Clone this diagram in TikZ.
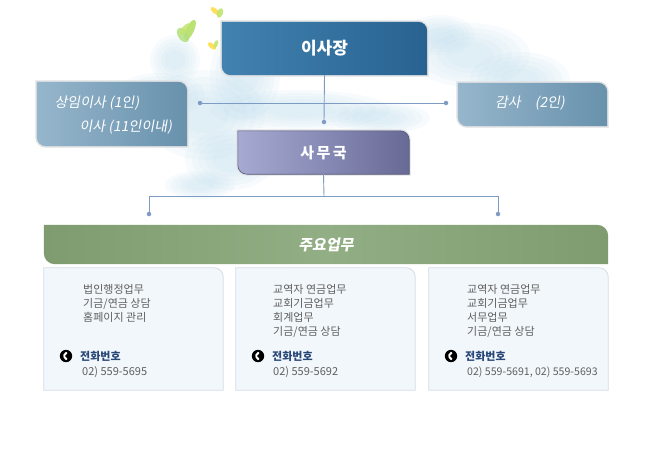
\documentclass[tikz,border=0pt]{standalone}
\usepackage{fontspec}
\setmainfont{Noto Sans CJK KR}
\newfontfamily\krsl[FakeSlant=0.18]{Noto Sans CJK KR}
\usetikzlibrary{calc}
\definecolor{lc}{RGB}{125,155,195}
\definecolor{edgegray}{RGB}{222,224,226}
\definecolor{bossL}{RGB}{66,130,176}
\definecolor{bossR}{RGB}{40,98,145}
\definecolor{sideL}{RGB}{150,182,204}
\definecolor{sideR}{RGB}{104,145,172}
\definecolor{offL}{RGB}{166,170,210}
\definecolor{offR}{RGB}{104,106,150}
\definecolor{grnL}{RGB}{126,156,112}
\definecolor{grnM}{RGB}{146,174,132}
\definecolor{panelfill}{RGB}{242,247,251}
\definecolor{paneledge}{RGB}{212,222,232}
\definecolor{txtgray}{RGB}{95,95,95}
\definecolor{telblue}{RGB}{40,70,120}
\definecolor{cloud}{RGB}{185,220,238}
\newcommand\leafshape[3]{% node, radius, style
  \path[#3] (#1.north west) -- ($(#1.north east)+(-#2,0)$)
    arc[start angle=90,end angle=0,radius=#2] -- (#1.south east)
    -- ($(#1.south west)+(#2,0)$) arc[start angle=270,end angle=180,radius=#2] -- cycle;}
\newcommand\panelshape[2]{%
  \path[#2] (#1.south west) -- (#1.north west) -- ($(#1.north east)+(-9,0)$)
    arc[start angle=90,end angle=0,radius=9] -- (#1.south east) -- cycle;}
\newcommand\phoneicon[1]{%
  \fill[black] (#1) circle[radius=6.2];
  \draw[white, line width=1.9pt, line cap=round] ($(#1)+(1.3,0)$) ++(115:3.1) arc[start angle=115, end angle=245, radius=3.1];
  \fill[white] ($(#1)+(1.3,0)$) ++(112:3.1) circle[radius=1.3];
  \fill[white] ($(#1)+(1.3,0)$) ++(248:3.1) circle[radius=1.3];}
\begin{document}
\begin{tikzpicture}[x=1pt,y=1pt,
  conn/.style={draw=lc, line width=0.9pt},
  dotc/.style={circle, fill=lc, inner sep=0pt, minimum size=4.5pt},
  boxnode/.style={inner sep=0pt, text=white},
  panelnode/.style={inner sep=0pt, minimum width=179pt, minimum height=122pt},
  ptext/.style={inner sep=0pt, anchor=north west, align=left, text=txtgray,
     font=\fontsize{11}{14}\selectfont},
  teltext/.style={inner sep=0pt, anchor=west, text=telblue, font=\fontsize{11}{12}\selectfont\bfseries},
  numtext/.style={inner sep=0pt, anchor=west, text=txtgray, font=\fontsize{11}{12}\selectfont}
]
\useasboundingbox (0,0) rectangle (648,-469);
\fill[white] (0,0) rectangle (648,-469);
% clouds (soft layered)
\foreach \cx/\cy/\rx/\ry in {
     205/-115/60/45, 160/-95/45/22, 230/-160/45/30, 245/-75/35/45,
     200/-185/35/14, 470/-55/60/32, 520/-80/50/28, 440/-35/35/20,
     300/-110/90/20, 380/-118/50/16, 555/-100/30/15, 175/-60/25/25, 140/-120/25/14}
  \foreach \s in {1.0,0.85,0.7,0.55,0.4}
    \fill[cloud, opacity=0.1] (\cx,\cy) ellipse[x radius=\s*\rx, y radius=\s*\ry];
% butterflies
\fill[yellow!55!green!70, opacity=0.85, rotate around={-25:(190,-30)}] (190,-30) ellipse[x radius=4, y radius=11];
\fill[yellow!45!green!55, opacity=0.85, rotate around={35:(183,-35)}] (183,-35) ellipse[x radius=5, y radius=8];
\fill[yellow!60!green!60, opacity=0.85, rotate around={-40:(185,-29)}] (185,-29) ellipse[x radius=3, y radius=7];
\fill[yellow!70!orange!70, opacity=0.9, rotate around={50:(215,-11)}] (215,-11) ellipse[x radius=2.5, y radius=5.5];
\fill[yellow!60!green!60, opacity=0.9, rotate around={-20:(220,-13)}] (220,-13) ellipse[x radius=3, y radius=5];
\fill[yellow!70!orange!70, opacity=0.9, rotate around={50:(212,-46)}] (212,-46) ellipse[x radius=2.5, y radius=5];
\fill[yellow!60!green!60, opacity=0.9, rotate around={-20:(216,-44)}] (216,-44) ellipse[x radius=2, y radius=4];
% nodes (geometry)
\node[boxnode, minimum width=205pt, minimum height=53pt] (boss) at (324.5,-48.5) {};
\node[boxnode, minimum width=150pt, minimum height=64pt] (left) at (112,-114) {};
\node[boxnode, minimum width=149pt, minimum height=43pt] (audit) at (532.5,-104.5) {};
\node[boxnode, minimum width=171pt, minimum height=43pt] (office) at (323.5,-152.5) {};
\node[boxnode, minimum width=564pt, minimum height=39pt] (main) at (326,-244.5) {};
\node[panelnode] (p1) at (133.5,-329) {};
\node[panelnode] (p2) at (325.5,-329) {};
\node[panelnode] (p3) at (518.5,-329) {};
% shapes
\leafshape{boss}{9}{draw=edgegray, line width=3pt}
\leafshape{boss}{9}{left color=bossL, right color=bossR}
\leafshape{left}{9}{draw=edgegray, line width=3pt}
\leafshape{left}{9}{left color=sideL, right color=sideR}
\leafshape{audit}{9}{draw=edgegray, line width=3pt}
\leafshape{audit}{9}{left color=sideL, right color=sideR}
\leafshape{office}{9}{draw=edgegray, line width=3pt}
\leafshape{office}{9}{left color=offL, right color=offR, draw=offR!80!black, line width=0.6pt}
\leafshape{main}{11}{left color=grnL, right color=grnL, middle color=grnM}
\panelshape{p1}{fill=panelfill, draw=paneledge, line width=0.8pt}
\panelshape{p2}{fill=panelfill, draw=paneledge, line width=0.8pt}
\panelshape{p3}{fill=panelfill, draw=paneledge, line width=0.8pt}
% titles
\node[text=white, font=\fontsize{17}{19}\selectfont\bfseries] at (boss.center) {이사장};
\node[text=white, anchor=west, font=\krsl\fontsize{14}{15}\selectfont] at (51,-103) {상임이사\ (1인)};
\node[text=white, anchor=west, font=\krsl\fontsize{14}{15}\selectfont] at (76,-127) {이사\ (11인이내)};
\node[text=white, font=\krsl\fontsize{14}{15}\selectfont] at (530,-103) {감사\quad(2인)};
\node[text=white, font=\fontsize{15}{18}\selectfont\bfseries] at (office.center) {사\,무\,국};
\node[text=white, font=\krsl\fontsize{15}{17}\selectfont\bfseries] at (main.center) {주요업무};
% connectors
\coordinate (d1) at (324,-122);
\coordinate (hl) at (200,-103);
\coordinate (hr) at (446,-103);
\coordinate (j2) at (324,-196);
\coordinate (bl) at (149,-196);
\coordinate (br) at (498,-196);
\coordinate (dl) at (149,-214);
\coordinate (dr) at (498,-214);
\draw[conn] (boss.south) -- (d1);
\draw[conn] (hl) -- (hr);
\draw[conn] (office.south) -- (j2);
\draw[conn] (bl) -- (br);
\draw[conn] (bl) -- (dl);
\draw[conn] (br) -- (dr);
\foreach \p in {d1,hl,hr,dl,dr} \node[dotc] at (\p) {};
% panel texts
\node[ptext] at (83,-284) {법인행정업무\\기금/연금 상담\\홈페이지 관리};
\node[ptext] at (273,-284) {교역자 연금업무\\교회기금업무\\회계업무\\기금/연금 상담};
\node[ptext] at (467,-284) {교역자 연금업무\\교회기금업무\\서무업무\\기금/연금 상담};
\phoneicon{66,-356}
\phoneicon{258,-356}
\phoneicon{451,-356}
\node[teltext] at (80,-356) {전화번호};
\node[teltext] at (272,-356) {전화번호};
\node[teltext] at (465,-356) {전화번호};
\node[numtext] at (82,-372) {02) 559-5695};
\node[numtext] at (273,-372) {02) 559-5692};
\node[numtext, font=\fontsize{10.6}{11}\selectfont] at (467,-372) {02) 559-5691, 02) 559-5693};
\end{tikzpicture}
\end{document}
